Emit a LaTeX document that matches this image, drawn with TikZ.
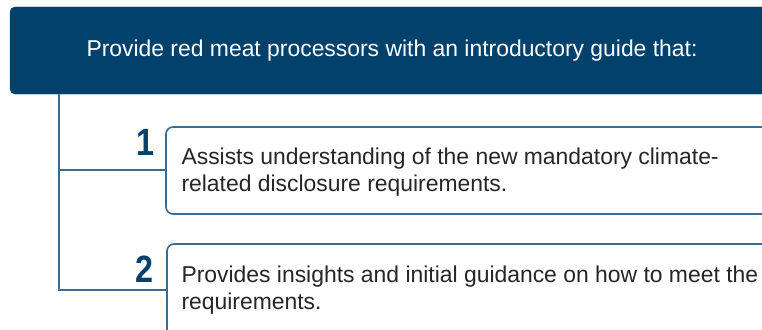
\documentclass[tikz,border=0pt]{standalone}
\usepackage{fontspec}
\setmainfont{Liberation Sans}
\usetikzlibrary{positioning}
\definecolor{navy}{HTML}{02416B}
\definecolor{edgeblue}{HTML}{3B6A93}
\tikzset{
  headbox/.style={draw=navy,fill=navy,rounded corners=5pt},
  itembox/.style={draw=edgeblue,line width=1.6pt,fill=white,rounded corners=7pt},
  itemtext/.style={anchor=west,align=left,font=\fontsize{22.9}{27}\selectfont,text=black!85},
  numlabel/.style={text=navy,font=\fontsize{38}{38}\selectfont\bfseries,xscale=0.85},
  linkline/.style={draw=edgeblue,line width=1.4pt}
}

\begin{document}
\begin{tikzpicture}[x=1pt,y=-1pt]
\useasboundingbox (0,0) rectangle (762,329);
\clip (0,0) rectangle (762,329);

% heading bar
\draw[headbox] (10,7) rectangle (790,94);
\node[text=white,font=\fontsize{22.9}{27}\selectfont] (head) at (392,51)
  {Provide red meat processors with an introductory guide that:};

% the two points
\draw[itembox] (166,127) rectangle (790,214);
\draw[itembox] (167,244) rectangle (790,360);
\coordinate (in1) at (166,170);
\coordinate (in2) at (167,290);
\coordinate (top) at (59,94);
\coordinate (bend) at (59,290);

\node[numlabel] (n1) at (145,142) {1};
\node[numlabel] (n2) at (144,269) {2};

\node[itemtext] (t1) at (178,172)
  {Assists understanding of the new mandatory climate-\\related disclosure requirements.};
\node[itemtext] (t2) at (178,290)
  {Provides insights and initial guidance on how to meet the\\requirements.};

% tree lines
\draw[linkline] (top) -- (bend) -- (in2);
\draw[linkline] (top |- in1) -- (in1);
\end{tikzpicture}
\end{document}
